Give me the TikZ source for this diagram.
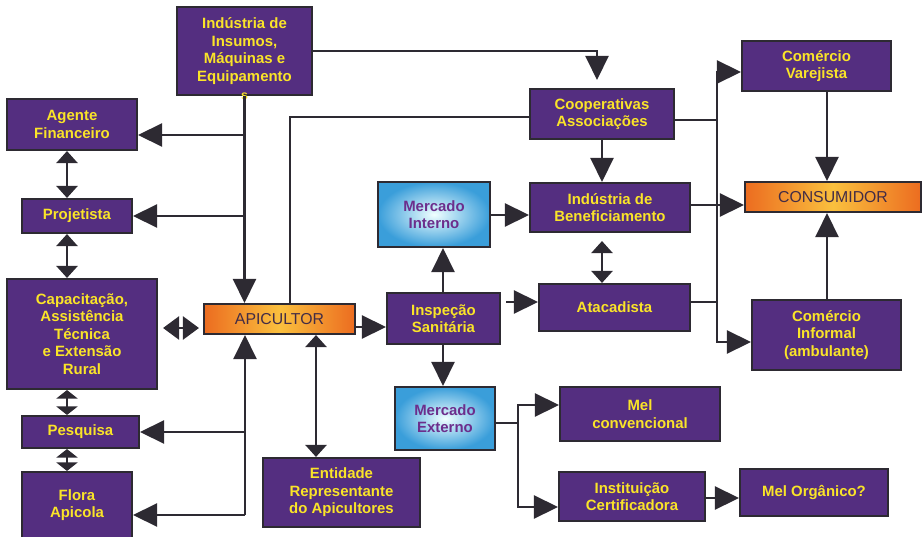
\documentclass[tikz,border=0pt]{standalone}
\usepackage{fontspec}
\setmainfont{Liberation Sans}
\usepackage{tikz}
\usetikzlibrary{calc, arrows.meta}
\definecolor{boxpurple}{RGB}{84, 46, 128}
\definecolor{txtyellow}{RGB}{250, 228, 40}
\definecolor{linegray}{RGB}{45, 42, 50}
\definecolor{mktblue}{RGB}{58, 158, 218}
\definecolor{mkttext}{RGB}{108, 46, 140}
\definecolor{orangeR}{RGB}{236, 108, 32}
\definecolor{orangeY}{RGB}{250, 192, 62}
\definecolor{darktxt}{RGB}{66, 44, 70}
\tikzset{>={Triangle[length=0.48cm, width=0.46cm]}}
\tikzset{
  pbox/.style={draw=linegray, line width=1.2pt, fill=boxpurple, text=txtyellow,
    font=\bfseries\fontsize{8.5}{10}\selectfont, align=center, inner sep=1pt},
  obox/.style={draw=linegray, line width=1.2pt, left color=orangeR, right color=orangeR,
    middle color=orangeY, text=darktxt, font=\fontsize{9}{10}\selectfont, inner sep=1pt},
  bbox/.style={draw=linegray, line width=1.2pt, inner color=cyan!6!white, outer color=mktblue,
    text=mkttext, font=\bfseries\fontsize{8.5}{10}\selectfont, align=center, inner sep=1pt},
  link/.style={draw=linegray, line width=1.4pt},
  dbl/.style={link, {Triangle[length=0.24cm, width=0.42cm]}-{Triangle[length=0.24cm, width=0.42cm]}},
  dblshort/.style={link, {Triangle[length=0.17cm, width=0.42cm]}-{Triangle[length=0.17cm, width=0.42cm]}},
  dblmid/.style={link, {Triangle[length=0.32cm, width=0.46cm]}-{Triangle[length=0.32cm, width=0.46cm]}}
}

\begin{document}
\begin{tikzpicture}[x=0.02cm, y=-0.02cm]
\useasboundingbox (0,0) rectangle (923,537);

% boxes
\node[pbox, minimum width=2.70cm, minimum height=1.76cm,
  label={[anchor=center, inner sep=0pt, text=txtyellow, font=\bfseries\scriptsize]below:s}]
  (insumos) at (244.5,51) {Indústria de\\Insumos,\\Máquinas e\\Equipamento};
\node[pbox, minimum width=2.60cm, minimum height=1.02cm] (agente) at (72,124.5) {Agente\\Financeiro};
\node[pbox, minimum width=2.20cm, minimum height=0.68cm] (projetista) at (77,216) {Projetista};
\node[pbox, minimum width=3.00cm, minimum height=2.20cm] (capacit) at (82,334) {Capacitação,\\Assistência\\Técnica\\e Extensão\\Rural};
\node[pbox, minimum width=2.34cm, minimum height=0.64cm] (pesquisa) at (80.5,432) {Pesquisa};
\node[pbox, minimum width=2.20cm, minimum height=1.32cm] (flora) at (77,505) {Flora\\Apicola};
\node[obox, minimum width=3.02cm, minimum height=0.60cm] (apicultor) at (279.5,319) {APICULTOR};
\node[pbox, minimum width=3.14cm, minimum height=1.38cm] (entidade) at (341.5,492.5) {Entidade\\Representante\\do Apicultores};
\node[pbox, minimum width=2.26cm, minimum height=1.02cm] (inspecao) at (443.5,318.5) {Inspeção\\Sanitária};
\node[bbox, minimum width=2.24cm, minimum height=1.30cm] (mercint) at (434,214.5) {Mercado\\Interno};
\node[bbox, minimum width=2.00cm, minimum height=1.26cm] (mercext) at (445,418.5) {Mercado\\Externo};
\node[pbox, minimum width=2.88cm, minimum height=1.00cm] (cooper) at (602,114) {Cooperativas\\Associações};
\node[pbox, minimum width=3.20cm, minimum height=0.98cm] (benef) at (610,207.5) {Indústria de\\Beneficiamento};
\node[pbox, minimum width=3.02cm, minimum height=0.94cm] (atacad) at (614.5,307.5) {Atacadista};
\node[pbox, minimum width=2.98cm, minimum height=1.00cm] (varejista) at (816.5,66) {Comércio\\Varejista};
\node[obox, minimum width=3.52cm, minimum height=0.60cm] (consumidor) at (833,197) {CONSUMIDOR};
\node[pbox, minimum width=2.98cm, minimum height=1.40cm] (informal) at (826.5,335) {Comércio\\Informal\\(ambulante)};
\node[pbox, minimum width=3.20cm, minimum height=1.08cm] (melconv) at (640,414) {Mel\\convencional};
\node[pbox, minimum width=2.92cm, minimum height=0.98cm] (instit) at (632,496.5) {Instituição\\Certificadora};
\node[pbox, minimum width=2.96cm, minimum height=0.94cm] (melorg) at (814,492.5) {Mel Orgânico?};

% junctions
\coordinate (jAgente) at (244.5,135);
\coordinate (jProj) at (244.5,216);
\coordinate (jPesq) at (245,432);
\coordinate (jFlora) at (245,515);
\coordinate (jCoop) at (290,117);
\coordinate (xL) at (67,0);
\coordinate (jCap) at (181,328);
\coordinate (xE) at (316,0);
\coordinate (yI) at (0,327);
\coordinate (xI) at (443,0);
\coordinate (yAt) at (0,302);
\coordinate (yB) at (0,215);
\coordinate (xC) at (602,0);
\coordinate (yc) at (0,120);
\coordinate (yCons) at (0,205);
\coordinate (bR1) at (717,72);
\coordinate (bR2) at (717,342);
\coordinate (xV) at (827,0);
\coordinate (jExt) at (518,423);
\coordinate (bE1) at (518,405);
\coordinate (bE2) at (518,507);
\coordinate (yO) at (0,498);

% connectors
\draw[link, ->, shorten >=0.16cm] (insumos.east) -| ([xshift=-0.1cm]cooper.north);
\draw[link, ->] (insumos.south) -- (insumos.south |- apicultor.north);
\draw[link, ->] (jAgente) -- (jAgente -| agente.east);
\draw[link, ->] (jProj) -- (jProj -| projetista.east);
\draw[link] (cooper.west |- jCoop) -- (jCoop) -- (jCoop |- apicultor.north);
\draw[dbl] (agente.south -| xL) -- (projetista.north -| xL);
\draw[dbl] (projetista.south -| xL) -- (capacit.north -| xL);
\draw[dblshort] (capacit.south -| xL) -- (pesquisa.north -| xL);
\draw[dblshort] (pesquisa.south -| xL) -- (flora.north -| xL);
\draw[dblmid] ([xshift=0.1cm]capacit.east |- jCap) -- ([xshift=-0.08cm]apicultor.west |- jCap);
\draw[link, ->] (jFlora) -- (jFlora |- apicultor.south);
\draw[link, ->] (jPesq) -- (jPesq -| pesquisa.east);
\draw[link, ->] (jFlora) -- (jFlora -| flora.east);
\draw[dbl] (apicultor.south -| xE) -- (entidade.north -| xE);
\draw[link, ->] (apicultor.east |- yI) -- (inspecao.west |- yI);
\draw[link, ->] (inspecao.north -| xI) -- (mercint.south -| xI);
\draw[link, ->] (inspecao.south -| xI) -- (mercext.north -| xI);
\draw[link, ->] ([xshift=0.1cm]inspecao.east |- yAt) -- (atacad.west |- yAt);
\draw[link, ->] (mercint.east |- yB) -- (benef.west |- yB);
\draw[link, ->] (cooper.south -| xC) -- (benef.north -| xC);
\draw[dbl] ([yshift=-0.16cm]benef.south -| xC) -- (atacad.north -| xC);
\draw[link] (cooper.east |- yc) -- (yc -| bR1);
\draw[link] (atacad.east |- yAt) -- (yAt -| bR1);
\draw[link, ->] (benef.east |- yCons) -- (consumidor.west |- yCons);
\draw[link, ->] (bR2) -- (bR1) -- (bR1 -| varejista.west);
\draw[link, ->] (bR1) -- (bR2) -- (bR2 -| informal.west);
\draw[link, ->] (varejista.south -| xV) -- (consumidor.north -| xV);
\draw[link, ->] (informal.north -| xV) -- (consumidor.south -| xV);
\draw[link] (mercext.east |- jExt) -- (jExt);
\draw[link, ->] (jExt) -- (bE1) -- (bE1 -| melconv.west);
\draw[link, ->] (jExt) -- (bE2) -- (bE2 -| instit.west);
\draw[link, ->] (instit.east |- yO) -- (melorg.west |- yO);
\end{tikzpicture}
\end{document}
